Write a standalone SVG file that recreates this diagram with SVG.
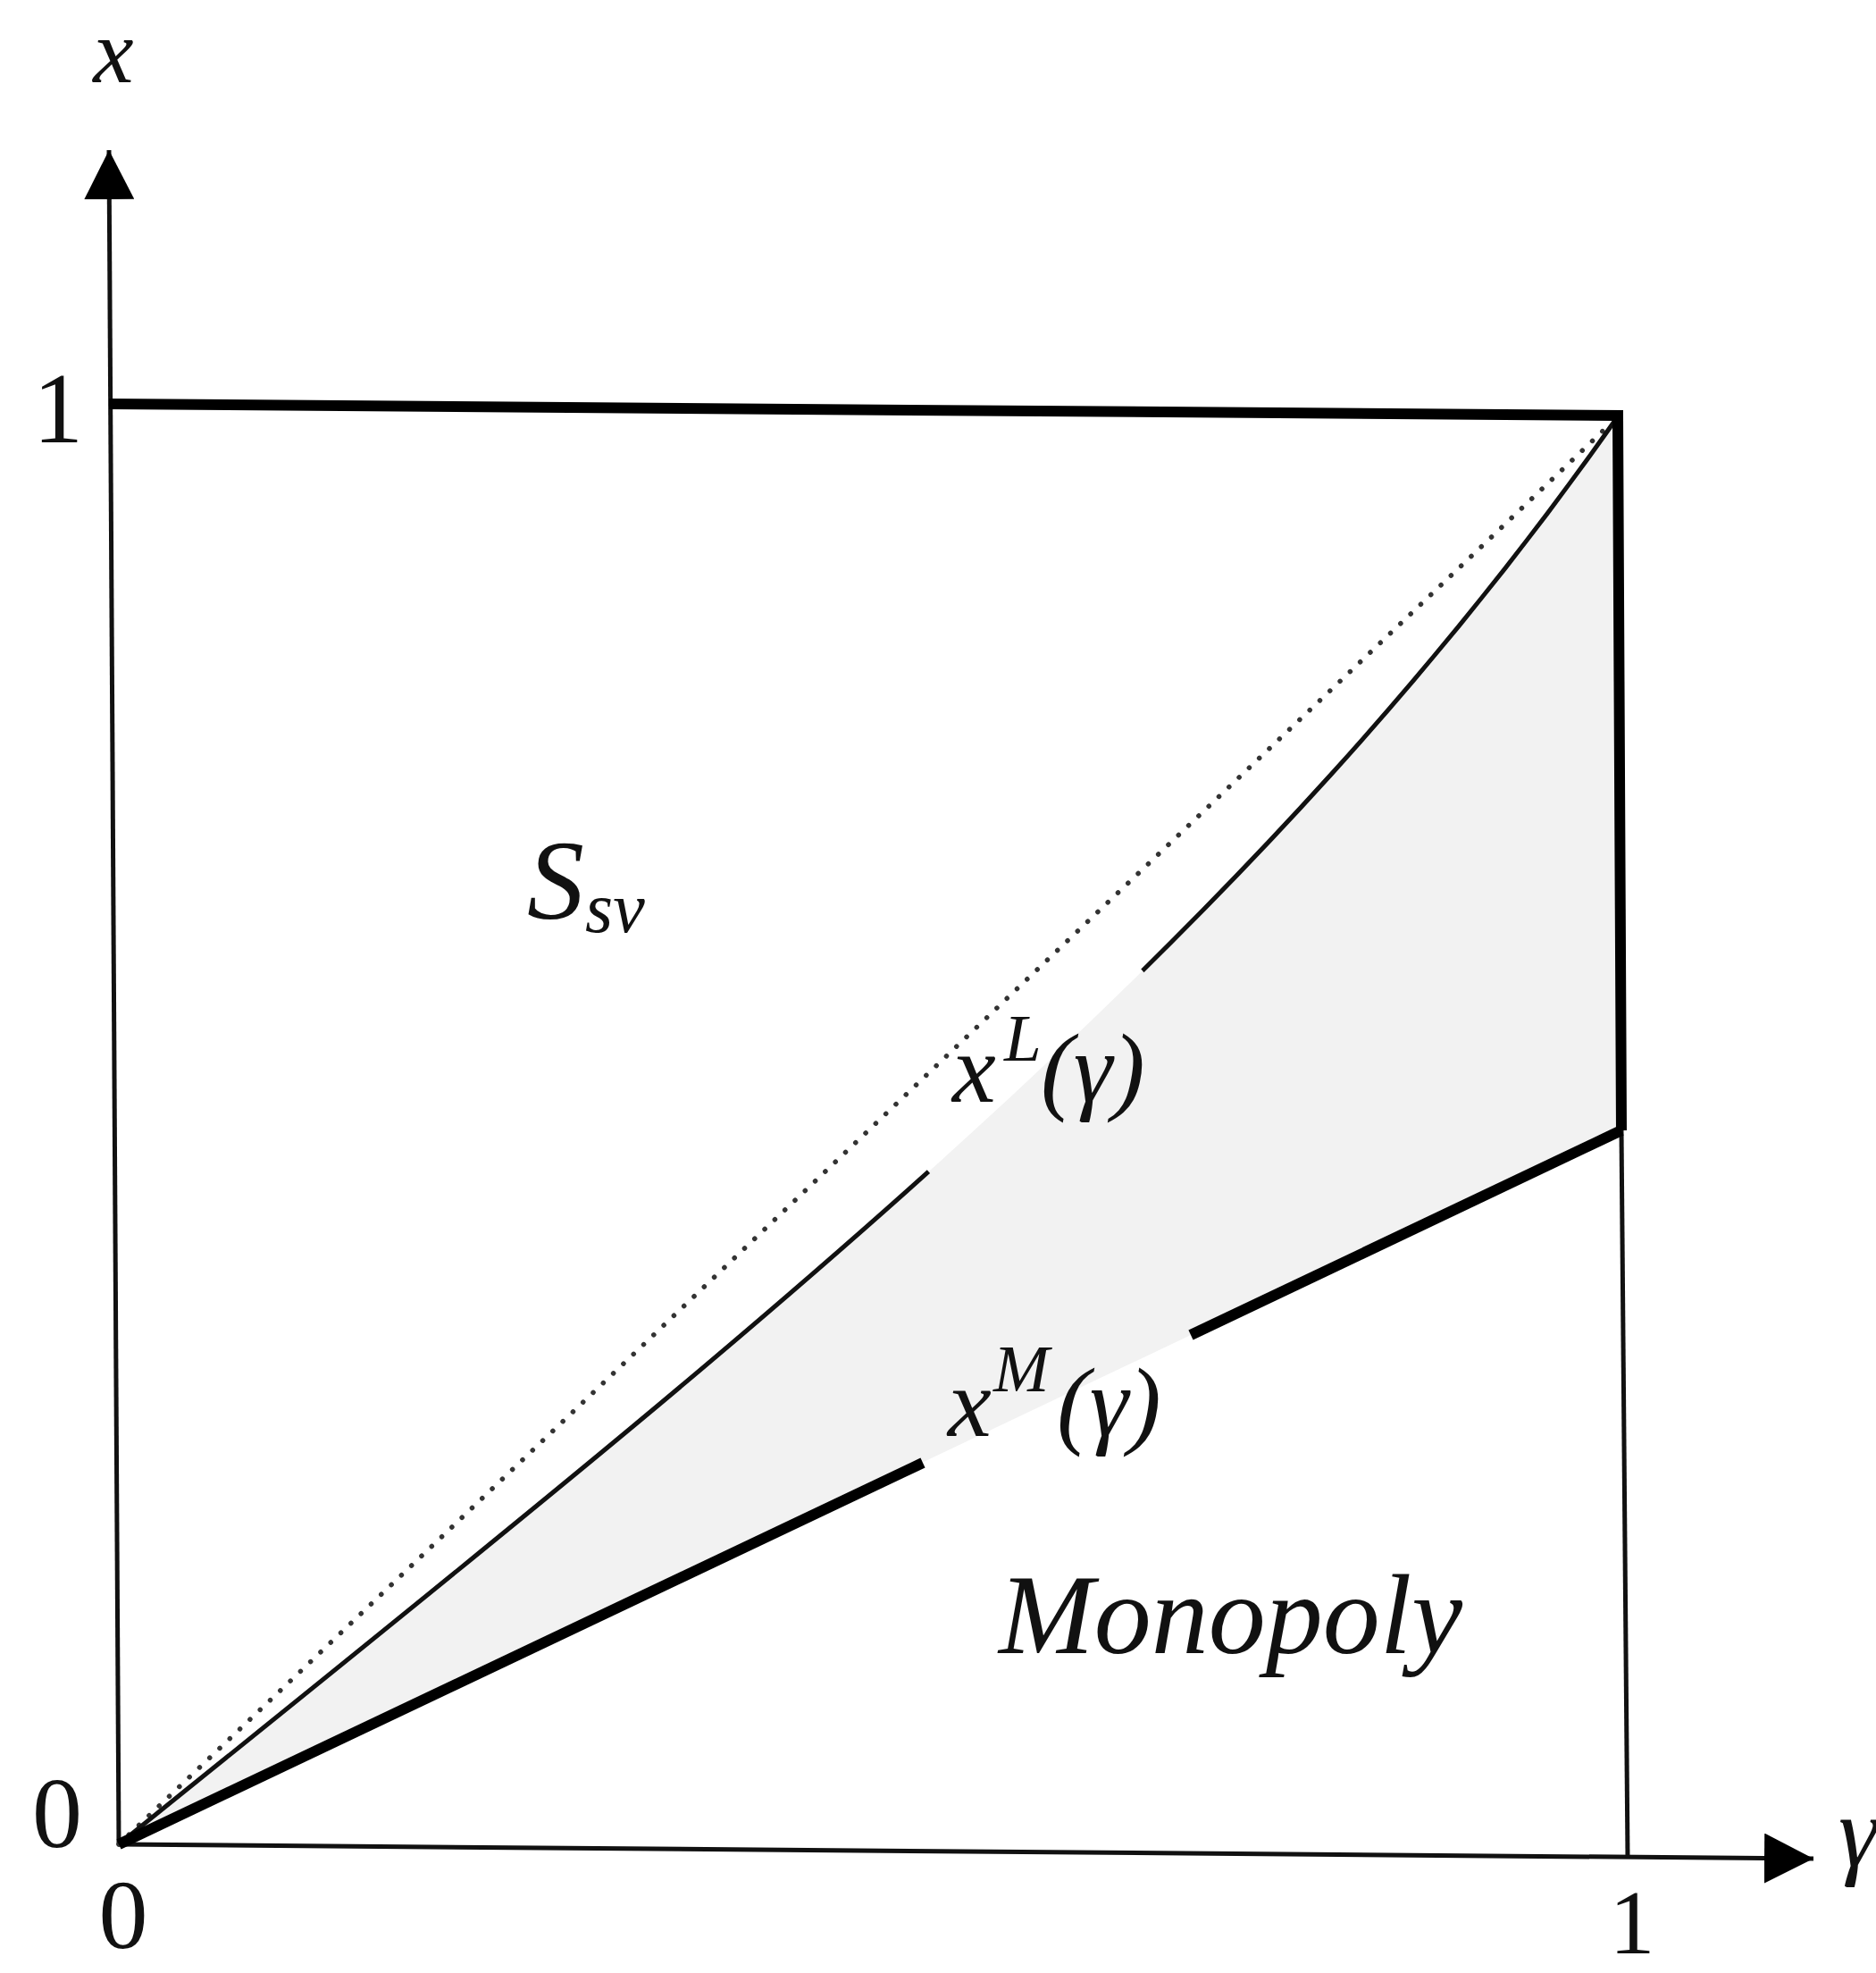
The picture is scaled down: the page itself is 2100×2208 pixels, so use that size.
<svg xmlns="http://www.w3.org/2000/svg" width="2100" height="2208" viewBox="0 0 2100 2208">
  <style>
    .thin { fill: none; stroke: #111; stroke-width: 5; }
    .thick { fill: none; stroke: #000; stroke-width: 12; stroke-linecap: butt; }
    .dots { fill: none; stroke: #333; stroke-width: 5.5; stroke-linecap: round; stroke-dasharray: 0.1 15.5; }
    .t { font-family: "Liberation Serif", "Times New Roman", serif; fill: #111; }
    .it { font-style: italic; }
  </style>
  <defs>
    <marker id="arrow" viewBox="0 0 55 56" refX="55" refY="28" markerWidth="55" markerHeight="56" markerUnits="userSpaceOnUse" orient="auto">
      <path d="M0,0 L55,28 L0,56 Z" fill="#000"/>
    </marker>
    <mask id="gapL" maskUnits="userSpaceOnUse" x="0" y="0" width="2100" height="2208">
      <rect x="0" y="0" width="2100" height="2208" fill="#fff"/>
      <polygon points="1049,1322 1005,1272 1253,1057 1297,1107" fill="#000"/>
    </mask>
  </defs>
  <rect x="0" y="0" width="2100" height="2208" fill="#fff"/>

  <g id="shaded-region">
    <path d="M133,2064 C804,1522 1391,1067 1811,466 L1815,1265 Z" fill="#f2f2f2"/>
  </g>

  <g id="axes">
    <line class="thin" x1="133" y1="2064" x2="122" y2="168" marker-end="url(#arrow)"/>
    <line class="thin" x1="133" y1="2064" x2="2030" y2="2080" marker-end="url(#arrow)"/>
    <line class="thin" x1="1815" y1="1265" x2="1822" y2="2079"/>
  </g>

  <g id="curves">
    <line id="diagonal" class="dots" x1="133" y1="2064" x2="1805" y2="472"/>
    <path id="xL" class="thin" d="M133,2064 C804,1522 1391,1067 1811,466" mask="url(#gapL)"/>
    <line id="xM-a" class="thick" x1="133" y1="2064" x2="1033" y2="1637"/>
    <line id="xM-b" class="thick" x1="1333" y1="1494" x2="1815" y2="1265"/>
    <polyline id="boundary" class="thick" points="122,452 1811,465 1815,1265" stroke-linejoin="miter"/>
  </g>

  <g id="labels">
    <text class="t it" x="127" y="92" font-size="102" text-anchor="middle">x</text>
    <text class="t" x="65" y="495" font-size="112" text-anchor="middle">1</text>
    <text class="t" x="64" y="2067" font-size="112" text-anchor="middle">0</text>
    <text class="t" x="138" y="2180" font-size="110" text-anchor="middle">0</text>
    <text class="t" x="1827" y="2186" font-size="102" text-anchor="middle">1</text>
    <text class="t it" x="2058" y="2088" font-size="112">γ</text>
    <g id="label-Ssv">
      <text class="t it" x="590" y="1028" font-size="128">S</text>
      <text class="t it" x="655" y="1043" font-size="80">sv</text>
    </g>
    <g id="label-xL">
      <text class="t it" x="1066" y="1233" font-size="110">x</text>
      <text class="t it" x="1124" y="1187" font-size="75">L</text>
      <text class="t it" x="1165" y="1233" font-size="110">(γ)</text>
    </g>
    <g id="label-xM">
      <text class="t it" x="1061" y="1607" font-size="110">x</text>
      <text class="t it" x="1112" y="1557" font-size="75">M</text>
      <text class="t it" x="1183" y="1607" font-size="110">(γ)</text>
    </g>
    <text class="t it" x="1118" y="1850" font-size="128">Monopoly</text>
  </g>
</svg>
